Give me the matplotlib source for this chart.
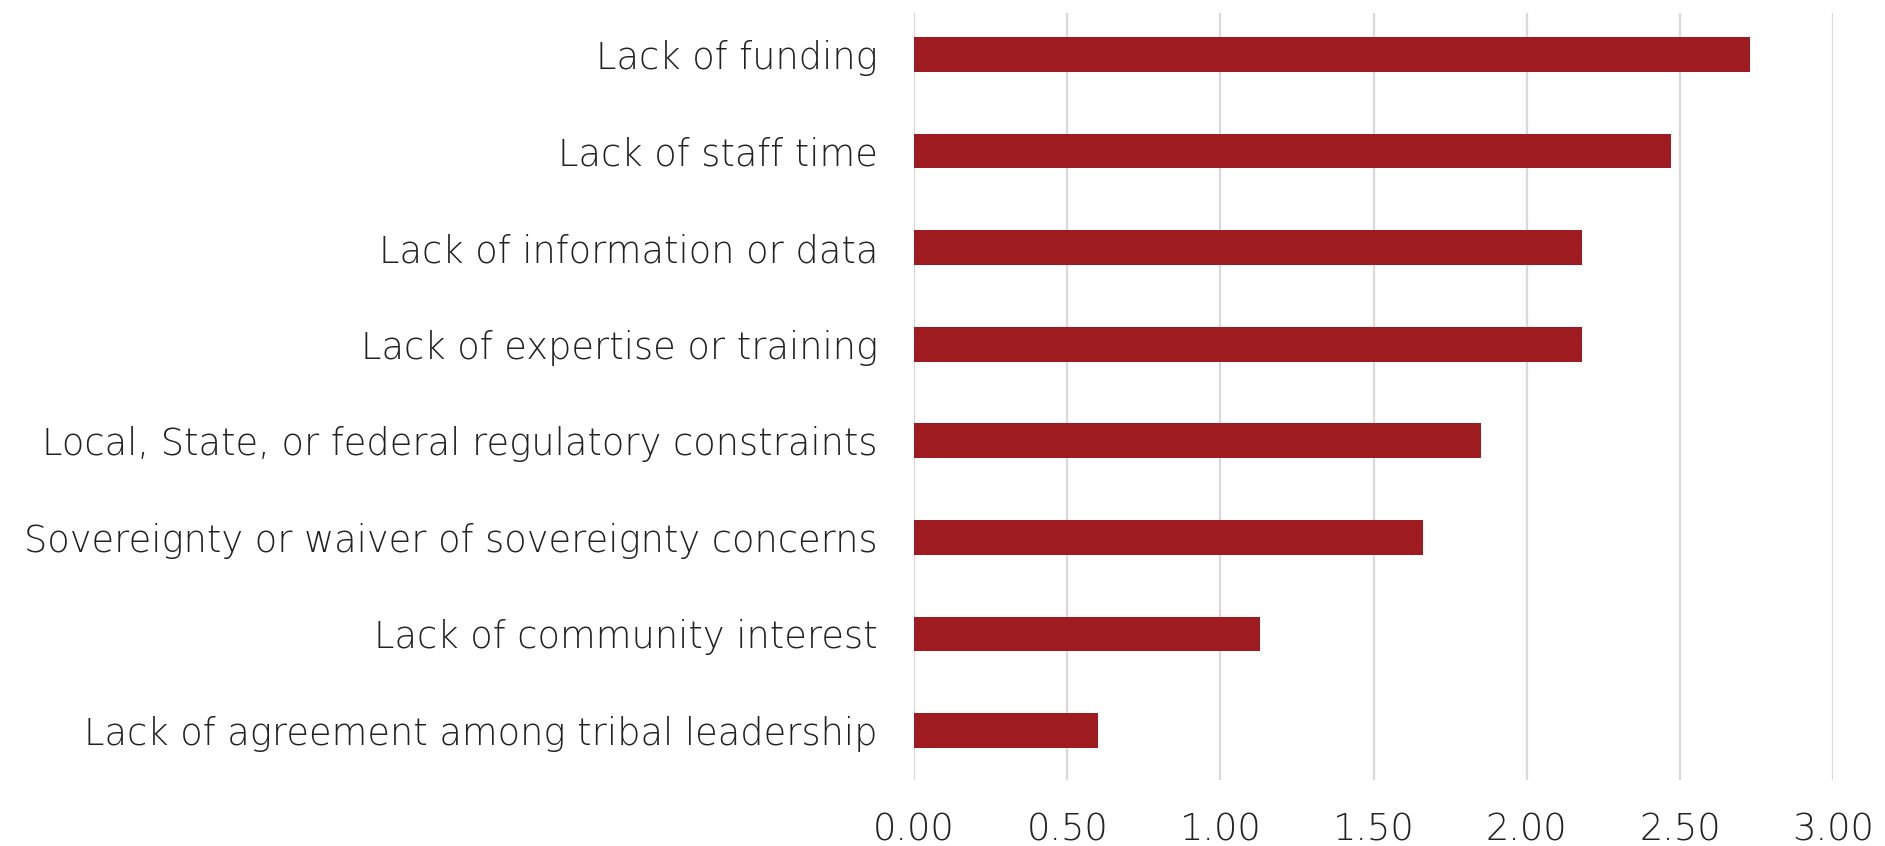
import matplotlib
matplotlib.use("Agg")
import matplotlib.pyplot as plt

categories = [
    "Lack of funding",
    "Lack of staff time",
    "Lack of information or data",
    "Lack of expertise or training",
    "Local, State, or federal regulatory constraints",
    "Sovereignty or waiver of sovereignty concerns",
    "Lack of community interest",
    "Lack of agreement among tribal leadership",
]
values = [2.73, 2.47, 2.18, 2.18, 1.85, 1.66, 1.13, 0.60]
xticks = [0.0, 0.5, 1.0, 1.5, 2.0, 2.5, 3.0]
xticklabels = ["0.00", "0.50", "1.00", "1.50", "2.00", "2.50", "3.00"]

plt.rcParams['font.family'] = ['DejaVu Sans']

fig = plt.figure(figsize=(18.85, 8.46), dpi=100)
ax = fig.add_axes([914/1885, 1 - 780/846, (1833-914)/1885, (780-13)/846])

pos = list(range(len(categories)))
ax.barh(pos, values, height=0.36, color="#9E1C1F", zorder=3)
ax.set_ylim(len(categories) - 0.487, -0.43)
ax.set_xlim(0, 3.0)
ax.set_xticks(xticks)
ax.set_xticklabels(xticklabels)
ax.set_yticks(pos)
ax.set_yticklabels(categories)
ax.grid(axis='x', color="#D9D9D9", linewidth=1.6, zorder=0)
ax.grid(axis='y', visible=False)
for s in ax.spines.values():
    s.set_visible(False)
ax.tick_params(axis='both', length=0, colors="#222222", labelsize=26.5)
ax.tick_params(axis='y', pad=26)
ax.tick_params(axis='x', pad=23)
for lbl in ax.get_xticklabels() + ax.get_yticklabels():
    lbl.set_fontweight('light')

fig.savefig("out.png", dpi=100, facecolor="white")
